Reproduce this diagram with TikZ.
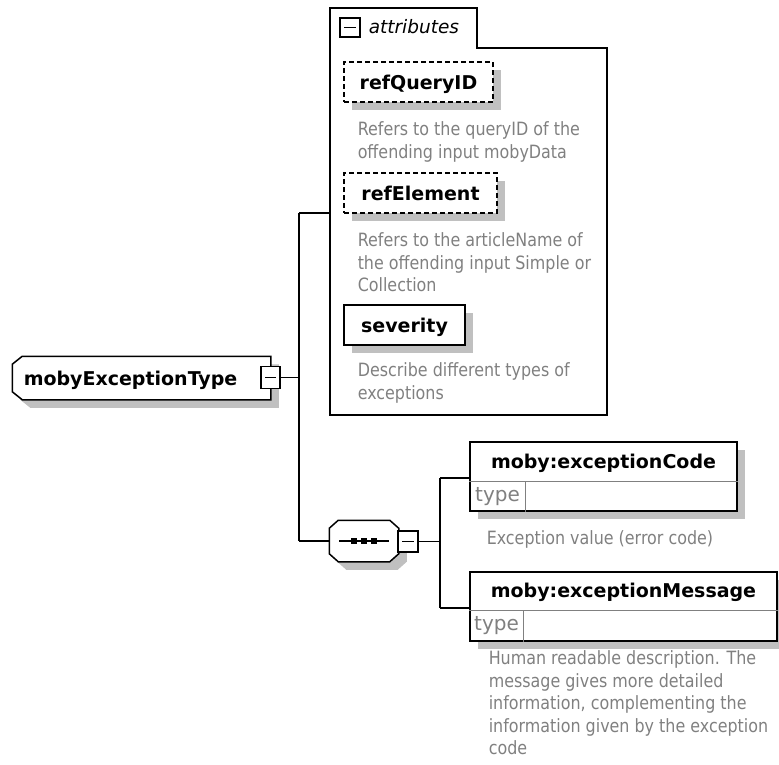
\documentclass[tikz,border=0pt]{standalone}
\usepackage{fontspec}
\setmainfont{DejaVu Sans}
\newfontfamily\descfont[FakeStretch=0.87]{DejaVu Sans}
\usetikzlibrary{shadows}

\definecolor{descgray}{RGB}{128,128,128}
\definecolor{shadowgray}{RGB}{192,192,192}

\begin{document}
\begin{tikzpicture}[x=1pt, y=-1pt, line width=1.5pt,
    boxshadow/.style={general shadow={fill=shadowgray, draw=none, shadow xshift=8pt, shadow yshift=-8pt}},
    lbl/.style={font=\fontsize{19}{22}\selectfont\bfseries, inner sep=0pt, text height=14pt, text depth=0pt},
    desc/.style={font=\descfont\fontsize{18.3}{22.5}\selectfont, text=descgray, align=left, anchor=north west, inner sep=0pt},
    attrbox/.style={draw, fill=white, inner sep=0pt, minimum height=40pt, boxshadow},
    elembox/.style={draw, fill=white, inner sep=0pt, minimum height=69pt, boxshadow},
    typecell/.style={font=\fontsize{20}{24}\selectfont, text=descgray, inner sep=0pt, minimum width=55pt, minimum height=29pt, anchor=south west},
    minusbox/.style={draw, fill=white, line width=1.2pt, inner sep=0pt, minimum width=19pt, minimum height=21pt,
        path picture={\draw[line width=1.2pt] ([xshift=4pt]path picture bounding box.west) -- ([xshift=-4pt]path picture bounding box.east);}},
    frame/.style={inner sep=0pt}]

    \useasboundingbox (0,0) rectangle (779,764);

    % complex type
    \node (elem) [frame, minimum width=257pt, minimum height=42pt] at (141.5,378) {};
    \draw[fill=white, boxshadow] ([xshift=10pt]elem.north west) -- (elem.north east) -- (elem.south east)
        -- ([xshift=10pt]elem.south west) -- ([yshift=8pt]elem.south west) -- ([yshift=-8pt]elem.north west) -- cycle;
    \node (elemname) [lbl, anchor=west] at (23,378) {mobyExceptionType};
    \node (elemminus) [minusbox, minimum height=22pt] at (270.5,377.5) {};

    % attributes
    \draw (330,415) -- (330,8) -- (477,8) -- (477,48) -- (607,48) -- (607,415) -- cycle;
    \node (attrminus) [minusbox, minimum width=20pt, minimum height=19pt] at (350,27.5) {};
    \node (attrtitle) [anchor=west, inner sep=0pt, font=\itshape\fontsize{18.5}{22}\selectfont] at (368,27) {attributes};

    \node (qid) [attrbox, dash pattern=on 5pt off 3pt, minimum width=149pt] at (418.5,82) {};
    \node (qidname) [lbl] at (qid) {refQueryID};
    \node (qiddesc) [desc] at (357,121) {Refers to the queryID of the\\offending input mobyData};

    \node (relem) [attrbox, dash pattern=on 5pt off 3pt, minimum width=153pt] at (420.5,193) {};
    \node (relemname) [lbl] at (relem) {refElement};
    \node (relemdesc) [desc] at (357,232) {Refers to the articleName of\\the offending input Simple or\\Collection};

    \node (sev) [attrbox, minimum width=121pt] at (404.5,325) {};
    \node (sevname) [lbl] at (sev) {severity};
    \node (sevdesc) [desc] at (357,362) {Describe different types of\\exceptions};

    % sequence
    \node (seq) [frame, minimum width=68pt, minimum height=40pt] at (364,541) {};
    \draw[fill=white, boxshadow] ([xshift=9pt]seq.north west) -- ([xshift=-9pt]seq.north east) -- ([yshift=-8pt]seq.north east)
        -- ([yshift=8pt]seq.south east) -- ([xshift=-9pt]seq.south east) -- ([xshift=9pt]seq.south west)
        -- ([yshift=8pt]seq.south west) -- ([yshift=-8pt]seq.north west) -- cycle;
    \draw ([xshift=-25pt]seq.center) -- ([xshift=25pt]seq.center);
    \foreach \dx in {-10,0,10}
        \fill ([xshift=\dx pt]seq.center) +(-3pt,-3pt) rectangle +(3pt,3pt);
    \node (seqminus) [minusbox, minimum width=20pt] at (408,541.5) {};

    % child elements
    \node (code) [elembox, minimum width=267pt] at (603.5,476.5) {};
    \node (codename) [lbl] at ([yshift=-20pt]code.north) {moby:exceptionCode};
    \draw[line width=0.8pt, gray] ([yshift=-40pt]code.north west) -- ([yshift=-40pt]code.north east);
    \node (codetype) [typecell] at (code.south west) {type};
    \draw[line width=0.8pt, gray] (codetype.north east) -- (codetype.south east);
    \node (codedesc) [desc] at (486,530) {Exception value (error code)};

    \node (msg) [elembox, minimum width=307pt] at (623.5,606.5) {};
    \node (msgname) [lbl] at ([yshift=-19.5pt]msg.north) {moby:exceptionMessage};
    \draw[line width=0.8pt, gray] ([yshift=-39pt]msg.north west) -- ([yshift=-39pt]msg.north east);
    \node (msgtype) [typecell, minimum width=53pt, minimum height=30pt] at (msg.south west) {type};
    \draw[line width=0.8pt, gray] (msgtype.north east) -- (msgtype.south east);
    \node (msgdesc) [desc] at (488,650) {Human readable description. The\\message gives more detailed\\information, complementing the\\information given by the exception\\code};

    % connectors
    \coordinate (fork) at (299,377.5);
    \coordinate (forktop) at (299,213);
    \coordinate (forkbot) at (299,541);
    \coordinate (attrin) at (330,213);
    \coordinate (seqfork) at (440,541.5);
    \coordinate (codein) at (440,478);
    \coordinate (msgin) at (440,608);

    \draw (elemminus) -- (fork);
    \draw (forktop) -- (forkbot);
    \draw (forktop) -- (attrin);
    \draw (forkbot) -- (seq.west);
    \draw (seqminus) -- (seqfork);
    \draw (codein) -- (msgin);
    \draw (codein) -- (codein -| code.west);
    \draw (msgin) -- (msgin -| msg.west);
\end{tikzpicture}
\end{document}
